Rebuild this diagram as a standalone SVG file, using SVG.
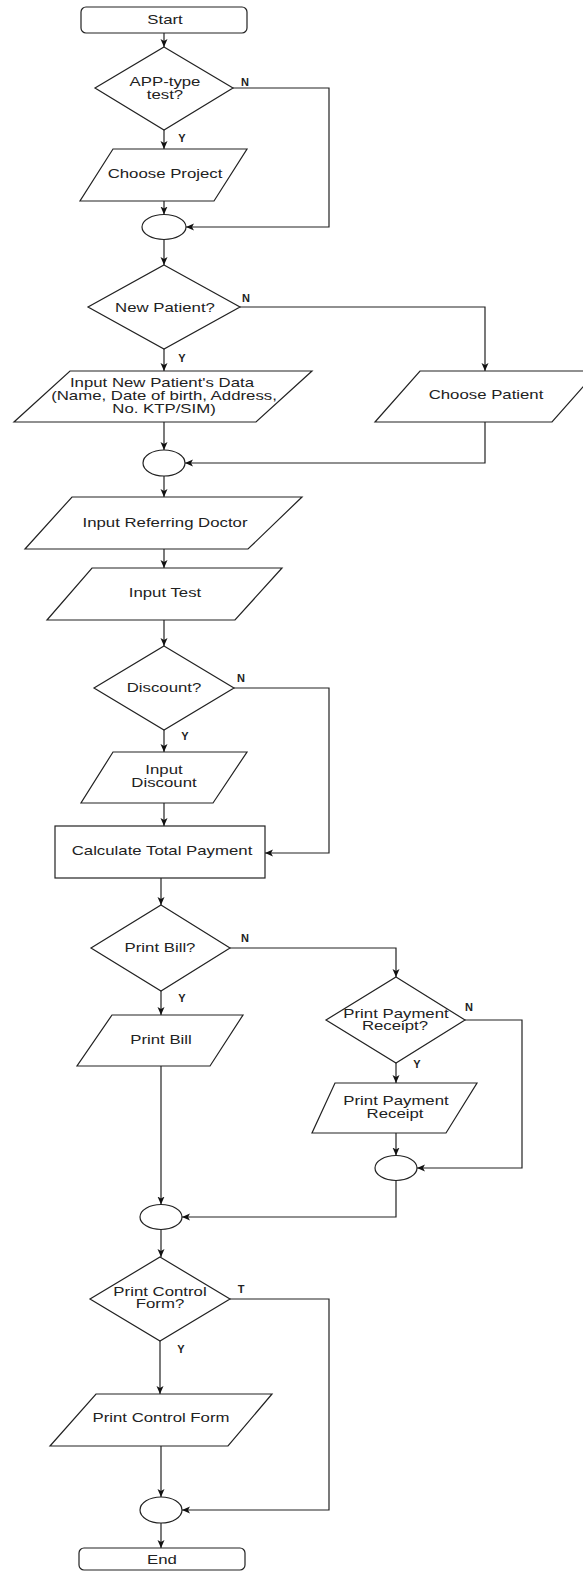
<svg xmlns="http://www.w3.org/2000/svg" width="583" height="1572" viewBox="0 0 583 1572">
<style>
.s{fill:#fff;stroke:#222;stroke-width:1.2}
.c{fill:none;stroke:#222;stroke-width:1.2}
.t{font-family:"Liberation Sans",Arial,sans-serif;font-size:12px;fill:#222;text-anchor:middle}
.l{font-family:"Liberation Sans",Arial,sans-serif;font-size:11px;font-weight:bold;fill:#222;text-anchor:middle}
</style>
<defs>
<marker id="a" markerUnits="userSpaceOnUse" markerWidth="10" markerHeight="8" refX="8" refY="3.5" orient="auto">
<path d="M0,0 L8,3.5 L0,7 L2,3.5 z" fill="#111"/>
</marker>
</defs>
<rect width="583" height="1572" fill="#fff"/>
<g id="connectors" class="c" marker-end="url(#a)">
<path d="M164,33 V47"/>
<path d="M164,130 V149"/>
<path d="M164,201 V214.5"/>
<path d="M233,88 H329 V227 H186"/>
<path d="M164,239.5 V265"/>
<path d="M240,307 H485 V371"/>
<path d="M164,349 V371"/>
<path d="M164,422 V450"/>
<path d="M485,422 V463 H185"/>
<path d="M164,476 V497"/>
<path d="M164,549 V568"/>
<path d="M164,620 V646"/>
<path d="M234,688 H329 V853 H265"/>
<path d="M164,730 V752"/>
<path d="M164,803 V826"/>
<path d="M161,878 V905"/>
<path d="M230,948 H396 V977"/>
<path d="M161,991 V1015"/>
<path d="M161,1066 V1204.5"/>
<path d="M396,1063 V1083"/>
<path d="M465,1020 H522 V1168 H417"/>
<path d="M396,1133 V1155.5"/>
<path d="M396,1180.5 V1217 H182"/>
<path d="M161,1229.5 V1257"/>
<path d="M230,1299 H329 V1510 H182"/>
<path d="M160,1341 V1394"/>
<path d="M161,1446 V1497"/>
<path d="M161,1523 V1548"/>
</g>
<g id="start"><rect class="s" x="81" y="7" width="166" height="26" rx="5"/><text class="t" transform="translate(165,24) scale(1.4,1)">Start</text></g>
<g id="appTest"><polygon class="s" points="164,47 233,88 164,130 95,88"/><text class="t" transform="translate(165,86) scale(1.4,1)">APP-type</text><text class="t" transform="translate(165,99) scale(1.4,1)">test?</text></g>
<g id="chooseProject"><polygon class="s" points="113,149 247,149 214,201 80,201"/><text class="t" transform="translate(165,178) scale(1.4,1)">Choose Project</text></g>
<g id="merge1"><ellipse class="s" cx="164" cy="227" rx="22" ry="12.5"/></g>
<g id="newPatient"><polygon class="s" points="164,265 240,307 164,349 88,307"/><text class="t" transform="translate(165,312) scale(1.4,1)">New Patient?</text></g>
<g id="inputNewPatient"><polygon class="s" points="70,371 312,371 256,422 14,422"/><text class="t" transform="translate(162,387) scale(1.4,1)">Input New Patient's Data</text><text class="t" transform="translate(164,400) scale(1.4,1)">(Name, Date of birth, Address,</text><text class="t" transform="translate(164,413) scale(1.4,1)">No. KTP/SIM)</text></g>
<g id="choosePatient"><polygon class="s" points="420,371 597,371 552,422 375,422"/><text class="t" transform="translate(486,399) scale(1.4,1)">Choose Patient</text></g>
<g id="merge2"><ellipse class="s" cx="164" cy="463" rx="21" ry="13"/></g>
<g id="referringDoctor"><polygon class="s" points="72,497 302,497 248,549 25,549"/><text class="t" transform="translate(165,527) scale(1.4,1)">Input Referring Doctor</text></g>
<g id="inputTest"><polygon class="s" points="92,568 282,568 235,620 47,620"/><text class="t" transform="translate(165,597) scale(1.4,1)">Input Test</text></g>
<g id="discount"><polygon class="s" points="164,646 234,688 164,730 94,688"/><text class="t" transform="translate(164,692) scale(1.4,1)">Discount?</text></g>
<g id="inputDiscount"><polygon class="s" points="113,752 247,752 213,803 81,803"/><text class="t" transform="translate(164,774) scale(1.4,1)">Input</text><text class="t" transform="translate(164,787) scale(1.4,1)">Discount</text></g>
<g id="calcTotal"><rect class="s" x="55" y="826" width="210" height="52"/><text class="t" transform="translate(162,855) scale(1.4,1)">Calculate Total Payment</text></g>
<g id="printBillQ"><polygon class="s" points="161,905 230,948 161,991 91,948"/><text class="t" transform="translate(160,952) scale(1.4,1)">Print Bill?</text></g>
<g id="printBill"><polygon class="s" points="112,1015 243,1015 210,1066 77,1066"/><text class="t" transform="translate(161,1044) scale(1.4,1)">Print Bill</text></g>
<g id="printReceiptQ"><polygon class="s" points="396,977 465,1020 396,1063 326,1020"/><text class="t" transform="translate(396,1018) scale(1.4,1)">Print Payment</text><text class="t" transform="translate(395,1030) scale(1.4,1)">Receipt?</text></g>
<g id="printReceipt"><polygon class="s" points="335,1083 477,1083 446,1133 312,1133"/><text class="t" transform="translate(396,1105) scale(1.4,1)">Print Payment</text><text class="t" transform="translate(395,1118) scale(1.4,1)">Receipt</text></g>
<g id="merge3"><ellipse class="s" cx="396" cy="1168" rx="21" ry="12.5"/></g>
<g id="merge4"><ellipse class="s" cx="161" cy="1217" rx="21" ry="12.5"/></g>
<g id="printControlQ"><polygon class="s" points="160,1257 230,1299 160,1341 90,1299"/><text class="t" transform="translate(160,1296) scale(1.4,1)">Print Control</text><text class="t" transform="translate(160,1308) scale(1.4,1)">Form?</text></g>
<g id="printControl"><polygon class="s" points="96,1394 272,1394 228,1446 50,1446"/><text class="t" transform="translate(161,1422) scale(1.4,1)">Print Control Form</text></g>
<g id="merge5"><ellipse class="s" cx="161" cy="1510" rx="21" ry="13"/></g>
<g id="end"><rect class="s" x="79" y="1548" width="166" height="22" rx="5"/><text class="t" transform="translate(162,1564) scale(1.4,1)">End</text></g>
<g id="labels">
<text class="l" x="245" y="86">N</text>
<text class="l" x="182" y="142">Y</text>
<text class="l" x="246" y="302">N</text>
<text class="l" x="182" y="362">Y</text>
<text class="l" x="241" y="682">N</text>
<text class="l" x="185" y="740">Y</text>
<text class="l" x="245" y="942">N</text>
<text class="l" x="182" y="1002">Y</text>
<text class="l" x="469" y="1011">N</text>
<text class="l" x="417" y="1068">Y</text>
<text class="l" x="241" y="1293">T</text>
<text class="l" x="181" y="1353">Y</text>
</g>
</svg>
